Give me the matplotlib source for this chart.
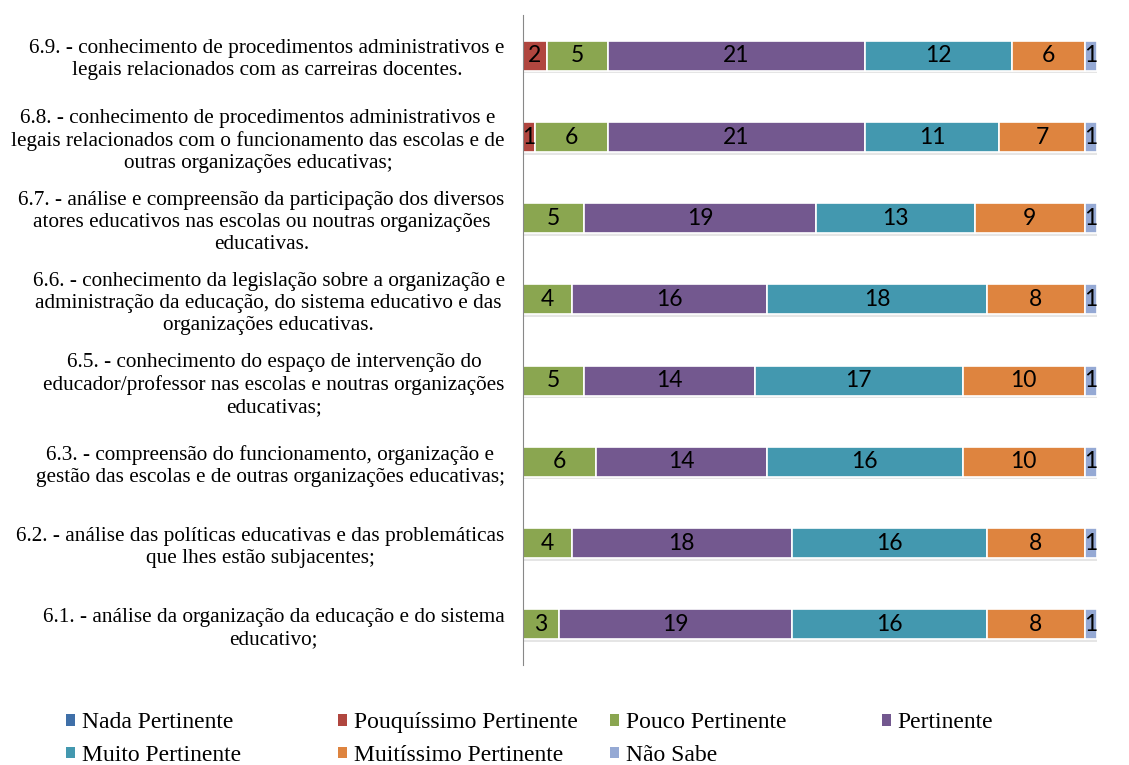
import matplotlib
matplotlib.use("Agg")
import matplotlib.pyplot as plt
import matplotlib.patheffects as pe
from matplotlib.patches import Patch

# categories listed top to bottom, as in the picture
categories = [
    "6.9. - conhecimento de procedimentos administrativos e\n"
    "legais relacionados com as carreiras docentes.",
    "6.8. - conhecimento de procedimentos administrativos e\n"
    "legais relacionados com o funcionamento das escolas e de\n"
    "outras organizações educativas;",
    "6.7. - análise e compreensão da participação dos diversos\n"
    "atores educativos nas escolas ou noutras organizações\n"
    "educativas.",
    "6.6. - conhecimento da legislação sobre a organização e\n"
    "administração da educação, do sistema educativo e das\n"
    "organizações educativas.",
    "6.5. - conhecimento do espaço de intervenção do\n"
    "educador/professor nas escolas e noutras organizações\n"
    "educativas;",
    "6.3. - compreensão do funcionamento, organização e\n"
    "gestão das escolas e de outras organizações educativas;",
    "6.2. - análise das políticas educativas e das problemáticas\n"
    "que lhes estão subjacentes;",
    "6.1. - análise da organização da educação e do sistema\n"
    "educativo;",
]

series_names = ["Nada Pertinente", "Pouquíssimo Pertinente", "Pouco Pertinente",
                "Pertinente", "Muito Pertinente", "Muitíssimo Pertinente", "Não Sabe"]
nada = [0, 0, 0, 0, 0, 0, 0, 0]
pouquissimo = [2, 1, 0, 0, 0, 0, 0, 0]
pouco = [5, 6, 5, 4, 5, 6, 4, 3]
pertinente = [21, 21, 19, 16, 14, 14, 18, 19]
muito = [12, 11, 13, 18, 17, 16, 16, 16]
muitissimo = [6, 7, 9, 8, 10, 10, 8, 8]
nao_sabe = [1, 1, 1, 1, 1, 1, 1, 1]

colors = ["#3F6FA8", "#B0463F", "#8AA650", "#73588F", "#4398AF", "#DE843F", "#95A9D4"]

fig = plt.figure(figsize=(11.29, 7.65), dpi=100)
ax = fig.add_axes([0.463, 0.131, 0.5087, 0.849])

n = len(categories)
ypos = list(range(n - 1, -1, -1))
left = [0] * n
shadow = [pe.SimplePatchShadow(offset=(0.8, -1.8), shadow_rgbFace="#aaaaaa", alpha=0.3),
          pe.Normal()]
for name, vals, col in zip(series_names,
                           [nada, pouquissimo, pouco, pertinente, muito, muitissimo, nao_sabe],
                           colors):
    bars = ax.barh(ypos, vals, left=left, height=0.37, color=col, edgecolor="white",
                   linewidth=1.2, label=name)
    for b in bars:
        b.set_path_effects(shadow)
    labels = [str(v) if v else "" for v in vals]
    ax.bar_label(bars, labels=labels, label_type="center", fontsize=16.5,
                 family="Lato", color="black")
    left = [a + b for a, b in zip(left, vals)]

ax.set_xlim(0, 47)
ax.set_ylim(-0.5, n - 0.5)
ax.set_xticks([])
ax.set_yticks(ypos)
ax.set_yticklabels(categories, fontsize=15.3, family="Liberation Serif", linespacing=1.22)
for lab in ax.get_yticklabels():
    lab.set_multialignment("center")
ax.tick_params(axis="y", length=0, pad=13)
for s in ["top", "right", "bottom"]:
    ax.spines[s].set_visible(False)
ax.spines["left"].set_color("#888888")

# legend, one column at a time: equal column widths like the original
handles = [Patch(facecolor=c) for c in colors]
cols = [[0, 4], [1, 5], [2, 6], [3]]
xs = [0.0585, 0.2994, 0.5403, 0.7812]
for idx, x in zip(cols, xs):
    fig.legend([handles[i] for i in idx], [series_names[i] for i in idx],
               loc="upper left", bbox_to_anchor=(x, 0.069), frameon=False,
               prop={"family": "Liberation Serif", "size": 17},
               handlelength=0.38, handleheight=0.38, handletextpad=0.28,
               labelspacing=0.5, borderaxespad=0, borderpad=0)

fig.savefig("out.png", dpi=100)
